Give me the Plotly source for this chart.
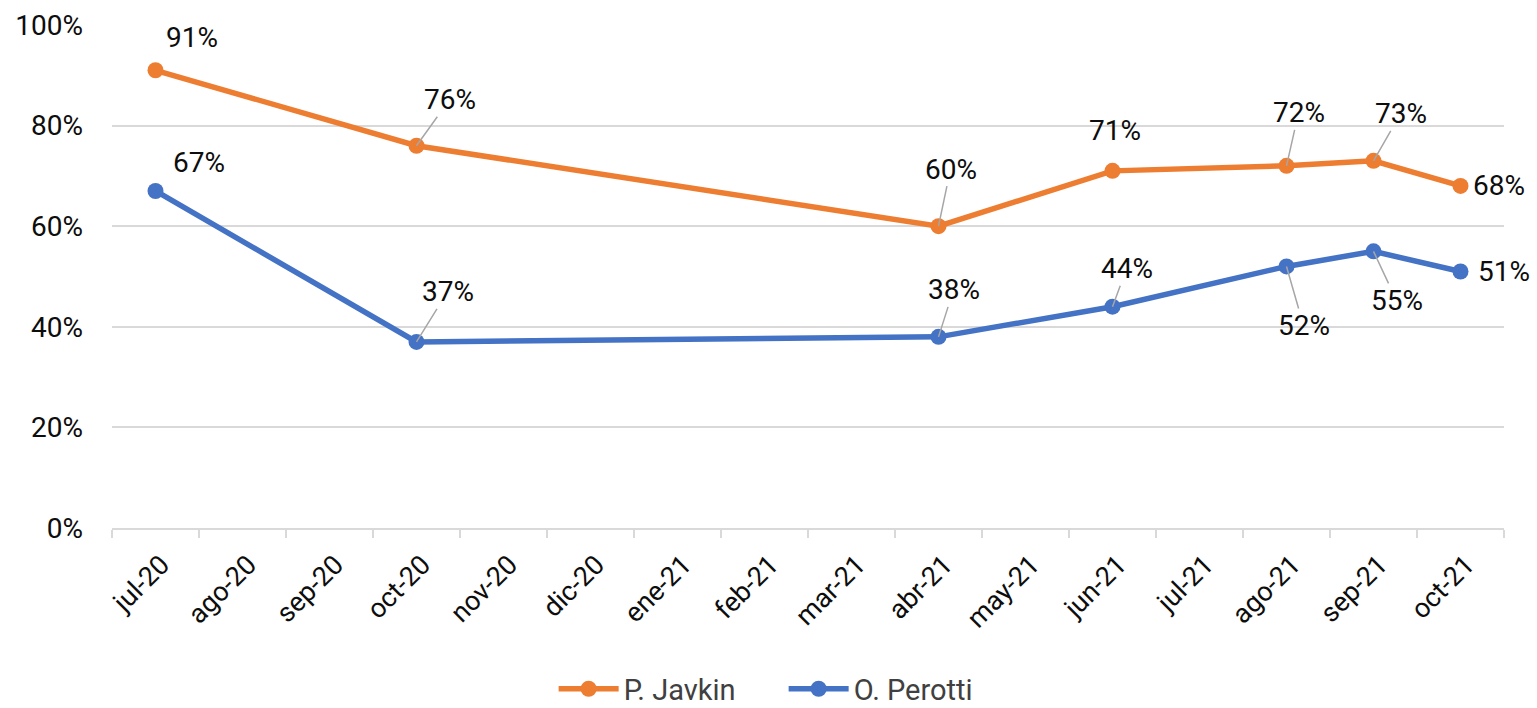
import plotly.graph_objects as go

months = ["jul-20", "ago-20", "sep-20", "oct-20", "nov-20", "dic-20", "ene-21", "feb-21",
          "mar-21", "abr-21", "may-21", "jun-21", "jul-21", "ago-21", "sep-21", "oct-21"]
survey_months = ["jul-20", "oct-20", "abr-21", "jun-21", "ago-21", "sep-21", "oct-21"]
javkin = [91, 76, 60, 71, 72, 73, 68]
perotti = [67, 37, 38, 44, 52, 55, 51]
y_ticks = [0, 20, 40, 60, 80, 100]

ORANGE = "#ED7D31"
BLUE = "#4472C4"
GRID = "#D9D9D9"
FONT = "Roboto"
TXT = "#0d0d0d"

xs = [months.index(m) for m in survey_months]

fig = go.Figure()
fig.add_trace(go.Scatter(x=xs, y=javkin, mode="lines+markers", name="P. Javkin",
                         line=dict(color=ORANGE, width=5.5), marker=dict(size=16, color=ORANGE)))
fig.add_trace(go.Scatter(x=xs, y=perotti, mode="lines+markers", name="O. Perotti",
                         line=dict(color=BLUE, width=5.5), marker=dict(size=16, color=BLUE)))

# label placement offsets (pixels): (dx, dy, leader line)
j_off = [(36, -33, False), (33, -46, True), (12, -57, True), (2, -40, False),
         (12, -53, True), (27, -47, True), (38, 0, False)]
p_off = [(43, -28, False), (31, -50, True), (15, -47, True), (14, -38, True),
         (17, 59, True), (23, 49, True), (43, 0, False)]

for series, offs in ((javkin, j_off), (perotti, p_off)):
    for xv, yv, (dx, dy, line) in zip(xs, series, offs):
        common = dict(x=xv, y=yv, text=f"{yv}%", font=dict(family=FONT, size=28, color=TXT))
        if line:
            fig.add_annotation(**common, showarrow=True, arrowhead=0, arrowwidth=1.5,
                               arrowcolor="#A6A6A6", ax=dx, ay=dy, borderpad=0)
        else:
            fig.add_annotation(**common, showarrow=False, xshift=dx, yshift=-dy)

fig.update_layout(
    width=1537, height=708,
    margin=dict(l=112, r=33, t=25, b=180),
    plot_bgcolor="white", paper_bgcolor="white",
    font=dict(family=FONT, size=27, color=TXT),
    showlegend=True,
    legend=dict(orientation="h", x=0.4825, xanchor="center", yref="container",
                y=0.027, yanchor="middle", entrywidth=155, entrywidthmode="pixels",
                font=dict(family=FONT, size=29, color="#404040"), itemwidth=60),
    xaxis=dict(range=[-0.5, 15.5], tickvals=list(range(len(months))), ticktext=months,
               tickangle=-45, ticks="", showgrid=False, zeroline=False, automargin=False,
               showline=True, linecolor=GRID, linewidth=2, ticklabelstandoff=8,
               ticklabelshift=6,
               tickfont=dict(family=FONT, size=27, color=TXT),
               minor=dict(tickvals=[i - 0.5 for i in range(len(months) + 1)], ticks="outside",
                          ticklen=8, tickcolor=GRID, tickwidth=2, showgrid=False)),
    yaxis=dict(range=[0, 100], tickvals=y_ticks, ticktext=[f"{v}%" for v in y_ticks],
               showgrid=True, gridcolor=GRID, gridwidth=2, zeroline=False, showline=False,
               ticks="", ticklabelstandoff=28, automargin=False,
               tickfont=dict(family=FONT, size=28, color=TXT)),
)

fig.write_html("out.html", config={"displayModeBar": False},
               post_script="document.body.style.margin='0';document.body.style.overflow='hidden';")
